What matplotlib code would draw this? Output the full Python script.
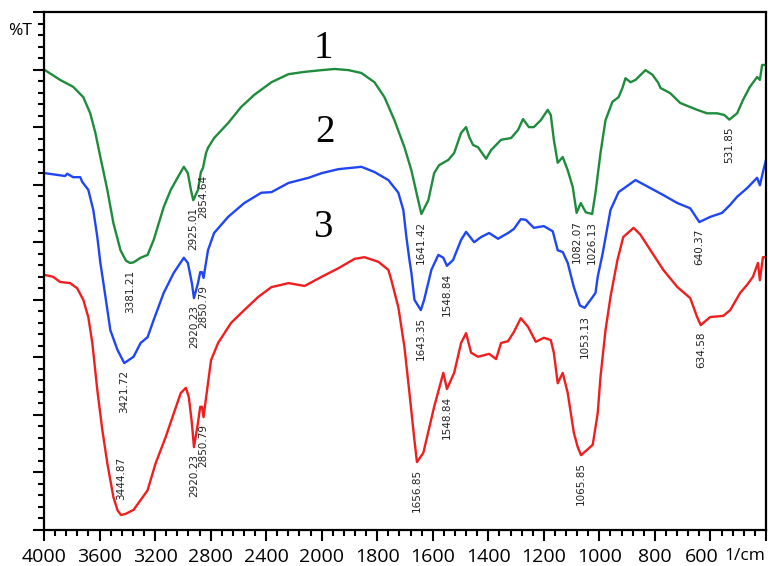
import numpy as np
import matplotlib
matplotlib.use("Agg")
import matplotlib.pyplot as plt
import matplotlib.transforms as mtransforms
from matplotlib.ticker import FixedLocator, NullFormatter, MultipleLocator

# ---------------- spectra (wavenumber in 1/cm, transmittance in arbitrary %T units) ----------------
wn_1 = [3993, 3884, 3790, 3717, 3667, 3630, 3594, 3544, 3500, 3449, 3410, 3381, 3355, 3304, 3254,
        3210, 3138, 3087, 3036, 2993, 2964, 2942, 2925, 2891, 2870, 2855, 2833, 2819, 2775, 2674,
        2580, 2486, 2362, 2239, 2123, 2000, 1953, 1903, 1857, 1810, 1774, 1738, 1702, 1677, 1655,
        1641, 1616, 1595, 1577, 1544, 1523, 1498, 1480, 1469, 1455, 1437, 1408, 1390, 1354, 1318,
        1293, 1275, 1254, 1236, 1211, 1186, 1175, 1164, 1150, 1132, 1114, 1096, 1082, 1067, 1049,
        1026, 1014, 996, 978, 953, 931, 917, 906, 888, 870, 834, 809, 788, 780, 745, 709, 684, 648,
        612, 576, 550, 532, 504, 483, 458, 432, 422, 414, 404]
t_1 = [79.9, 78.2, 77.0, 75.2, 72.4, 69.0, 64.8, 59.1, 53.3, 48.6, 46.8, 46.4, 46.5, 47.3, 47.8,
       50.4, 56.1, 59.1, 61.3, 63.1, 62.0, 59.1, 57.3, 59.1, 62.2, 62.9, 65.5, 66.4, 68.1, 70.7,
       73.5, 75.6, 77.8, 79.2, 79.6, 79.9, 80.1, 79.9, 79.4, 77.8, 75.2, 71.2, 66.5, 62.5, 57.8,
       54.9, 57.3, 62.0, 63.4, 64.3, 65.5, 69.0, 70.0, 68.3, 66.9, 66.5, 64.5, 66.0, 67.8, 68.1,
       69.5, 71.4, 70.0, 70.0, 71.2, 73.0, 72.1, 67.8, 63.8, 64.8, 62.5, 59.6, 55.1, 56.8, 55.2,
       54.9, 58.6, 65.5, 71.2, 74.4, 75.2, 76.8, 78.5, 77.8, 78.2, 79.9, 79.1, 77.7, 76.8, 75.9,
       74.2, 73.7, 73.0, 72.4, 72.4, 72.1, 71.3, 72.4, 74.7, 77.0, 78.7, 78.2, 80.8, 80.8]

wn_2 = [3993, 3906, 3848, 3833, 3790, 3739, 3725, 3681, 3645, 3616, 3594, 3572, 3522, 3471, 3422,
        3355, 3304, 3254, 3210, 3138, 3065, 2993, 2964, 2935, 2920, 2891, 2875, 2862, 2851, 2819,
        2775, 2674, 2558, 2435, 2362, 2239, 2094, 2000, 1939, 1857, 1810, 1760, 1724, 1706, 1695,
        1684, 1677, 1666, 1643, 1631, 1605, 1580, 1562, 1549, 1527, 1498, 1480, 1451, 1426, 1397,
        1365, 1329, 1308, 1283, 1265, 1236, 1200, 1168, 1150, 1132, 1114, 1092, 1070, 1053, 1024,
        1014, 1006, 988, 960, 931, 870, 816, 770, 719, 673, 640, 601, 558, 529, 504, 468, 432, 422,
        411, 400]
t_2 = [62.0, 61.7, 61.5, 61.9, 61.3, 61.3, 60.5, 59.1, 55.6, 50.9, 46.4, 42.9, 34.7, 31.3, 29.0,
       30.1, 32.5, 33.5, 36.5, 41.2, 44.7, 47.3, 46.4, 42.9, 40.3, 42.9, 44.8, 44.8, 43.8, 48.6,
       51.6, 54.4, 56.8, 58.6, 58.7, 60.3, 61.2, 62.0, 62.7, 63.1, 62.2, 60.8, 58.6, 55.6, 50.9,
       46.9, 44.7, 40.0, 38.2, 40.0, 45.2, 47.8, 47.3, 45.9, 46.9, 50.4, 51.8, 50.0, 50.9, 51.6,
       50.6, 51.6, 52.3, 54.0, 53.9, 52.5, 52.8, 51.9, 48.6, 48.3, 46.4, 42.2, 39.0, 38.6, 40.5,
       41.2, 44.0, 48.1, 55.6, 58.7, 60.8, 59.4, 58.2, 56.8, 55.9, 53.5, 54.4, 55.1, 56.5, 57.9,
       59.4, 61.2, 59.9, 62.2, 64.3]

wn_3 = [3993, 3935, 3884, 3812, 3761, 3717, 3681, 3652, 3616, 3580, 3544, 3500, 3470, 3445, 3413,
        3355, 3304, 3254, 3196, 3123, 3065, 3015, 2978, 2957, 2935, 2920, 2891, 2875, 2862, 2851,
        2819, 2797, 2746, 2652, 2558, 2457, 2362, 2290, 2239, 2123, 2000, 1939, 1882, 1846, 1796,
        1760, 1749, 1724, 1702, 1684, 1666, 1657, 1634, 1595, 1562, 1549, 1523, 1498, 1480, 1462,
        1437, 1397, 1372, 1354, 1329, 1308, 1283, 1257, 1229, 1200, 1175, 1164, 1150, 1132, 1114,
        1092, 1078, 1066, 1024, 1006, 996, 978, 960, 935, 914, 877, 852, 816, 770, 719, 673, 648,
        635, 601, 554, 529, 493, 468, 447, 429, 422, 411, 400]
t_3 = [44.3, 44.0, 43.1, 42.9, 42.0, 40.0, 37.0, 32.5, 24.3, 17.4, 11.6, 5.7, 3.4, 2.6, 2.8,
       3.5, 5.2, 6.9, 11.6, 16.2, 20.3, 23.8, 24.7, 23.1, 18.6, 14.4, 18.6, 21.4, 21.4, 19.6,
       25.5, 29.5, 32.5, 36.0, 38.2, 40.5, 42.2, 42.6, 42.9, 42.4, 44.0, 45.5, 47.1, 47.4, 46.6,
       45.2, 43.4, 38.7, 31.8, 23.8, 15.6, 11.8, 13.4, 21.4, 27.3, 24.5, 27.3, 32.5, 34.2, 30.8,
       30.1, 30.6, 29.7, 32.5, 32.8, 34.4, 36.8, 35.3, 32.7, 33.4, 33.0, 30.8, 25.5, 27.3, 23.8,
       16.9, 14.4, 13.0, 14.8, 20.3, 26.6, 34.7, 40.5, 46.9, 50.9, 52.5, 51.3, 48.6, 45.2, 42.2,
       40.3, 37.0, 35.6, 37.0, 37.2, 38.2, 41.2, 42.6, 44.0, 46.4, 43.4, 47.4, 47.4]

# peak annotations
peaks_1 = [3381.21, 2925.01, 2854.64, 1641.42, 1082.07, 1026.13, 531.85]
peaks_2 = [3421.72, 2920.23, 2850.79, 1643.35, 1548.84, 1053.13, 640.37]
peaks_3 = [3444.87, 2920.23, 2850.79, 1656.85, 1548.84, 1065.85, 634.58]

x_major = [4000, 3600, 3200, 2800, 2400, 2000, 1800, 1600, 1400, 1200, 1000, 800, 600]
series_names = ["1", "2", "3"]
colors = ["#1e8c3c", "#1f45f5", "#f01e1e"]

# ---------------- figure ----------------
fig = plt.figure(figsize=(7.7, 5.66), dpi=100)
ax = fig.add_axes([44 / 770, 36 / 566, 722 / 770, 518 / 566])


def fwd(x):
    x = np.asarray(x, dtype=float)
    return np.where(x > 2000, 2000 + (x - 2000) / 2.0, x)


def inv(y):
    y = np.asarray(y, dtype=float)
    return np.where(y > 2000, 2000 + (y - 2000) * 2.0, y)


ax.set_xscale("function", functions=(fwd, inv))
ax.set_xlim(4000, 400)
ax.set_ylim(0, 90)

lbl_font = dict(family="DejaVu Sans", size=7.5, color="#222222")
for wn, t, pk, c in zip([wn_1, wn_2, wn_3], [t_1, t_2, t_3],
                        [peaks_1, peaks_2, peaks_3], colors):
    ax.plot(wn, t, color=c, lw=1.7, solid_joinstyle="round")
    wr, tr = np.array(wn)[::-1], np.array(t)[::-1]
    for p in pk:
        v = np.interp(p, wr, tr)
        if p == 3444.87:
            ax.annotate(f"{p:.2f}", xy=(p, v), xytext=(0, 11), textcoords="offset points",
                        rotation=90, ha="center", va="bottom", **lbl_font)
        else:
            ax.annotate(f"{p:.2f}", xy=(p, v), xytext=(0, -5), textcoords="offset points",
                        rotation=90, ha="center", va="top", **lbl_font)

# series numbers
for name, (xw, yv) in zip(series_names, [(1993, 83.7), (1989, 69.0), (1996, 52.5)]):
    ax.text(xw, yv, name, family="Liberation Serif", fontsize=28, ha="center", va="center")

# ---------------- axes styling ----------------
minor_x = list(np.arange(4000, 2000, -80)) + list(np.arange(2000, 399, -40))
ax.xaxis.set_major_locator(FixedLocator(x_major + [400]))
ax.xaxis.set_minor_locator(FixedLocator(minor_x))
ax.set_xticklabels([str(v) for v in x_major] + [""], family="Open Sans", fontsize=14)
ax.yaxis.set_major_locator(MultipleLocator(10))
ax.yaxis.set_minor_locator(MultipleLocator(2))
ax.yaxis.set_major_formatter(NullFormatter())

ax.tick_params(axis="both", which="major", direction="out", length=8, width=1.5, color="black")
ax.tick_params(axis="both", which="minor", direction="out", length=4.5, width=1.5, color="black")
ax.tick_params(axis="x", which="major", pad=5)
ax.tick_params(top=False, right=False)
for s in ax.spines.values():
    s.set_linewidth(1.6)
    s.set_color("black")

# nudge the last numeric tick label left to leave room for the unit
last_lbl = ax.get_xticklabels()[len(x_major) - 1]
last_lbl.set_transform(last_lbl.get_transform() +
                       mtransforms.ScaledTranslation(-9 / 100, 0, fig.dpi_scale_trans))

fig.text(20 / 770, 1 - 31 / 566, "%T", family="Open Sans", fontsize=12.5, ha="center", va="center")
fig.text(724 / 770, 1 - 556 / 566, "1/cm", family="Open Sans", fontsize=12.5, ha="left", va="center")

fig.savefig("out.png", dpi=100)
